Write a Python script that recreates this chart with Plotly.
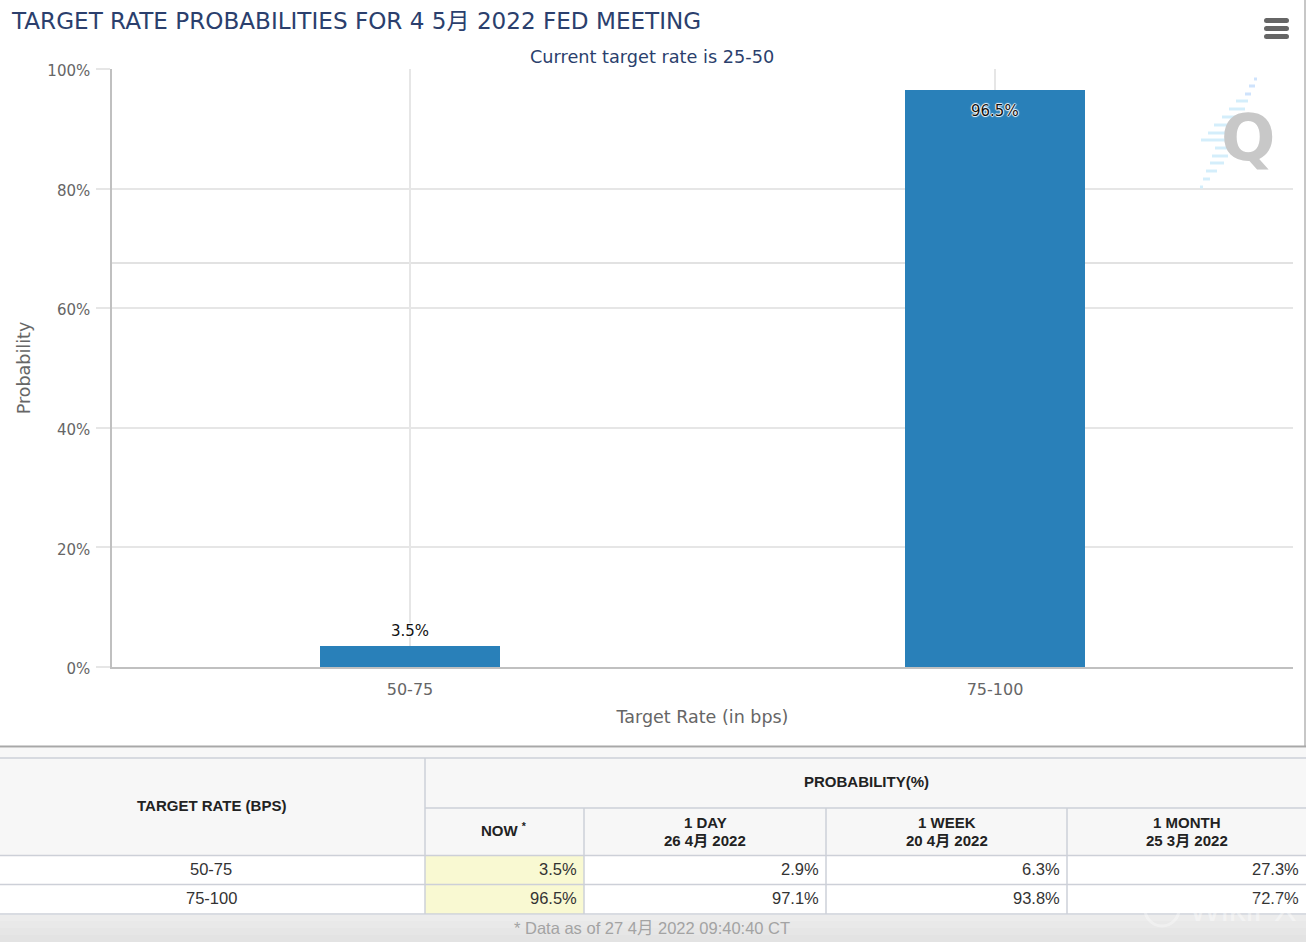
import plotly.graph_objects as go

W = 1306
H = 942

# chart data
rates = ["50-75", "75-100"]
probs = [3.5, 96.5]
prob_labels = ["3.5%", "96.5%"]
ytick_vals = [0, 20, 40, 60, 80, 100]
ytick_text = ["0%", "20%", "40%", "60%", "80%", "100%"]

# table data
head_top = ["1 DAY", "1 WEEK", "1 MONTH"]
head_dates = ["26 4月 2022", "20 4月 2022", "25 3月 2022"]
now_vals = ["3.5%", "96.5%"]
day_vals = ["2.9%", "97.1%"]
week_vals = ["6.3%", "93.8%"]
month_vals = ["27.3%", "72.7%"]

NAVY = "#2b3f6d"
GREY = "#666666"
LINE = "#cdd0d8"
TABLE_FONT = "Liberation Sans, Arial, sans-serif"
CHART_FONT = "DejaVu Sans, Noto Sans CJK SC, sans-serif"
CJK_TABLE = "Liberation Sans, Noto Sans CJK SC, sans-serif"
HALO = "1px 0 1px #fff, -1px 0 1px #fff, 0 1px 1px #fff, 0 -1px 1px #fff"


def px(x):
    return x / W


def py(y):
    return 1 - y / H


shapes = []
annots = []


def rect(x0, y0, x1, y1, fill, layer="above"):
    shapes.append(dict(type="rect", xref="paper", yref="paper", x0=px(x0), x1=px(x1), y0=py(y0), y1=py(y1),
                       fillcolor=fill, line_width=0, layer=layer))


def hline(x0, x1, y, color=LINE, width=1.5, layer="above"):
    shapes.append(dict(type="line", xref="paper", yref="paper", x0=px(x0), x1=px(x1), y0=py(y), y1=py(y),
                       line=dict(color=color, width=width), layer=layer))


def vline(x, y0, y1, color=LINE, width=1.5):
    shapes.append(dict(type="line", xref="paper", yref="paper", x0=px(x), x1=px(x), y0=py(y0), y1=py(y1),
                       line=dict(color=color, width=width)))


def dot(x0, y0, x1, y1, fill="rgba(0,0,0,0)", line=None, width=0):
    shapes.append(dict(type="circle", xref="paper", yref="paper", x0=px(x0), x1=px(x1), y0=py(y0), y1=py(y1),
                       fillcolor=fill, line=dict(color=line or fill, width=width)))


def text(x, y, s, size=15, color="#222222", anchor="center", font=TABLE_FONT, opacity=1):
    annots.append(dict(xref="paper", yref="paper", x=px(x), y=py(y), text=s, showarrow=False, xanchor=anchor,
                       yanchor="middle", opacity=opacity, font=dict(size=size, color=color, family=font)))


fig = go.Figure()
fig.add_trace(go.Bar(x=rates, y=probs, width=0.3077, marker=dict(color="#2980b9", line_width=0), hoverinfo="skip"))

# bar labels: the first sits above its bar, the second inside the top of its bar
for rate, prob, label, shift in zip(rates, probs, prob_labels, [4, -32]):
    annots.append(dict(x=rate, y=prob, text=label, showarrow=False, yanchor="bottom", yshift=shift,
                       font=dict(size=15, color="#111111", family=CHART_FONT, shadow=HALO)))

# stray line across the plot in the screenshot
hline(112, 1293, 263, color="#d8d8d8", width=1.5, layer="below")

# outer frame under the chart
vline(1305, 0, 746, color="#b5b5b5", width=1.5)
hline(0, W, 746.5, color="#a8a8a8", width=2)

# table
cols = [0, 425, 584, 826, 1067, W]
rect(0, 748, W, 855, "#f7f7f7")
rect(cols[1], 856, cols[2], 914, "#f9f9d2")
rect(0, 915, W, 921, "#ececec")
rect(0, 921, W, 928, "#e9e9e9")
rect(0, 928, W, 935, "#e6e6e6")
rect(0, 935, W, H, "#e3e3e3")
hline(0, W, 758)
hline(cols[1], W, 808)
hline(0, W, 855.5)
hline(0, W, 884.5)
hline(0, W, 914)
vline(cols[1], 758, 914)
for c in cols[2:5]:
    vline(c, 808, 914)

text(211, 805, "<b>TARGET RATE (BPS)</b>")
text(866, 781, "<b>PROBABILITY(%)</b>")
text(504, 829, "<b>NOW</b> <sup><b>*</b></sup>")
for i in range(3):
    mid = (cols[i + 2] + cols[i + 3]) / 2
    text(mid, 822, "<b>" + head_top[i] + "</b>")
    text(mid, 840, "<b>" + head_dates[i] + "</b>", font=CJK_TABLE)

row_ys = [868.5, 897.5]
for i, y in enumerate(row_ys):
    text(211, y, rates[i], size=16.5, color="#333333")
    for c, vals in zip(cols[2:], [now_vals, day_vals, week_vals, month_vals]):
        text(c - 5, y, vals[i], size=16.5, color="#333333", anchor="right")

text(652, 928, "* Data as of 27 4月 2022 09:40:40 CT", size=16.5, color="#a3a3a3", font=CJK_TABLE)

# WikiFX watermark, only visible where it crosses the grey
text(1243, 909, "WikiFX", size=34, color="#ffffff", opacity=0.4)
dot(1145, 892, 1179, 926, line="rgba(255,255,255,0.35)", width=3)

# hamburger menu
for y in [20.5, 28.5, 36.5]:
    hline(1266, 1287, y, color="#666666", width=5)
    dot(1264, y - 2.5, 1269, y + 2.5, fill="#666666")
    dot(1284, y - 2.5, 1289, y + 2.5, fill="#666666")

# Q watermark with its streaks
streaks = [(1254, 1257, 79), (1249, 1255, 86), (1245, 1251, 94), (1236, 1248, 101), (1229, 1245, 109),
           (1222, 1236, 117), (1214, 1228, 125), (1208, 1228, 133), (1201, 1228, 140), (1215, 1228, 148),
           (1212, 1228, 156), (1210, 1224, 163), (1206, 1217, 171), (1203, 1210, 179), (1200, 1203, 187)]
for x0, x1, y in streaks:
    rect(x0, y - 1.5, x1, y + 1.5, "#d4eefb" if y > 100 else "#cfe3fc")
text(1248, 138, "<b>Q</b>", size=64, color="#c8c8c8", font="DejaVu Sans, sans-serif")

fig.update_layout(
    width=W,
    height=H,
    margin=dict(l=0, r=0, t=0, b=0),
    autosize=False,
    paper_bgcolor="#ffffff",
    plot_bgcolor="#ffffff",
    showlegend=False,
    font=dict(family=CHART_FONT, color=GREY, size=14),
    title=dict(text="TARGET RATE PROBABILITIES FOR 4 5月 2022 FED MEETING", x=px(12), xanchor="left", y=py(21),
               yanchor="middle", font=dict(size=23.1, color=NAVY, family=CHART_FONT)),
    shapes=shapes,
    annotations=annots + [dict(xref="paper", yref="paper", x=px(652), y=py(57), text="Current target rate is 25-50",
                               showarrow=False, yanchor="middle", font=dict(size=17.7, color=NAVY, family=CHART_FONT))],
    xaxis=dict(domain=[px(112), px(1293)], range=[-0.5094, 1.5094], showgrid=True, gridcolor="#e6e6e6", gridwidth=1.5,
               showline=True, linecolor="#c0c0c0", linewidth=1.5, ticks="outside", ticklen=7,
               tickcolor="rgba(0,0,0,0)", tickfont=dict(size=16, color=GREY), automargin=False,
               title=dict(text="Target Rate (in bps)", font=dict(size=17.5, color=GREY), standoff=13), fixedrange=True),
    yaxis=dict(domain=[py(667), py(69)], range=[0, 100], tickvals=ytick_vals, ticktext=ytick_text, showgrid=True,
               gridcolor="#e6e6e6", gridwidth=1.5, zeroline=False, showline=True, linecolor="#c0c0c0", linewidth=1.5,
               ticks="outside", ticklen=14, tickcolor="#e6e6e6", tickwidth=1.5, tickfont=dict(size=15, color=GREY),
               ticklabelstandoff=3, ticklabelshift=2, automargin=False,
               title=dict(text="Probability", font=dict(size=17.5, color=GREY), standoff=12), fixedrange=True),
)

fig.write_html("out.html", config=dict(displayModeBar=False), post_script="document.body.style.margin='0';")
